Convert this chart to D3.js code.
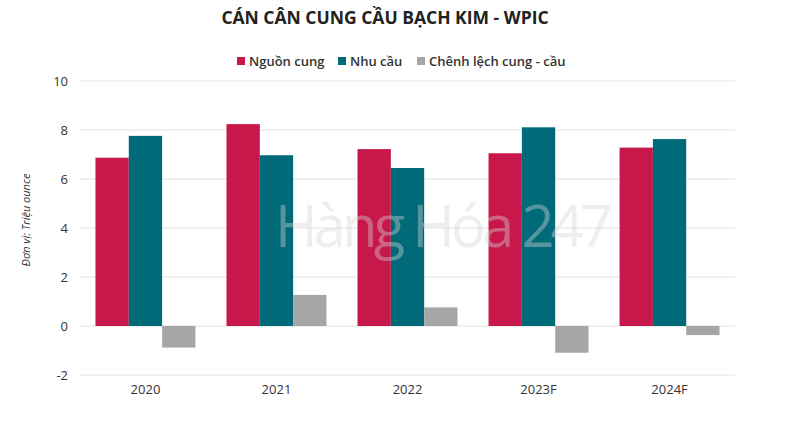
<!DOCTYPE html>
<html><head><meta charset="utf-8">
<script src="https://cdn.jsdelivr.net/npm/d3@7"></script>
<style>body{margin:0;background:#fff}svg{display:block;font-family:"Open Sans",sans-serif}</style>
</head><body><svg id="c" width="800" height="430"></svg>
<script>
const categories = ["2020","2021","2022","2023F","2024F"];
const seriesNames = ["Nguồn cung","Nhu cầu","Chênh lệch cung - cầu"];
const supply = [6.87, 8.24, 7.22, 7.05, 7.28];
const demand = [7.76, 6.97, 6.45, 8.11, 7.63];
const balance = [-0.88, 1.27, 0.76, -1.09, -0.37];
const yTicks = [-2, 0, 2, 4, 6, 8, 10];
const colors = ["#C8174A", "#006A78", "#A6A6A6"];

const svg = d3.select("#c");
const x = d3.scaleBand().domain(categories).range([80, 735]).paddingInner(0.237).paddingOuter(0.118);
const xs = d3.scaleBand().domain([0,1,2]).range([0, x.bandwidth()]);
const y = d3.scaleLinear().domain([-2, 10]).range([375, 81]);

// gridlines
svg.append("g").selectAll("line").data(yTicks).join("line")
  .attr("x1", 80).attr("x2", 735)
  .attr("y1", d => y(d)).attr("y2", d => y(d))
  .attr("stroke", "#e2e2e2").attr("stroke-width", 1);

// y axis labels
const ya = svg.append("g").attr("transform", "translate(68,0)")
  .call(d3.axisLeft(y).tickValues(yTicks).tickFormat(d => String(d)).tickSize(0).tickPadding(0));
ya.select(".domain").remove();
ya.selectAll("text").attr("font-size", 13).attr("fill", "#333").attr("font-family", "Open Sans");

// x axis labels
const xa = svg.append("g").attr("transform", "translate(0,385)")
  .call(d3.axisBottom(x).tickSize(0).tickPadding(0));
xa.select(".domain").remove();
xa.selectAll("text").attr("font-size", 13).attr("fill", "#333").attr("font-family", "Open Sans").attr("dy", "0.71em");

// bars
const series = [supply, demand, balance];
const rows = [];
categories.forEach((c, i) => series.forEach((s, j) => rows.push({c, j, v: s[i]})));
svg.append("g").selectAll("rect").data(rows).join("rect")
  .attr("x", d => x(d.c) + xs(d.j))
  .attr("width", xs.bandwidth())
  .attr("y", d => y(Math.max(0, d.v)))
  .attr("height", d => Math.abs(y(d.v) - y(0)))
  .attr("fill", d => colors[d.j]);

// watermark
svg.append("text").attr("x", 275).attr("y", 247).attr("textLength", 338)
  .attr("font-size", 58).attr("fill", "#d6d6d6").attr("opacity", 0.4)
  .attr("font-family", "Open Sans").text("Hàng Hóa 247");

// title
svg.append("text").attr("x", 385).attr("y", 24).attr("text-anchor", "middle")
  .attr("font-size", 17.5).attr("font-weight", "bold").attr("fill", "#222")
  .text("CÁN CÂN CUNG CẦU BẠCH KIM - WPIC");

// legend
const legX = [237, 338, 417];
const lg = svg.append("g").selectAll("g").data(seriesNames).join("g")
  .attr("transform", (d, i) => `translate(${legX[i]},61)`);
lg.append("rect").attr("x", 0).attr("y", -4).attr("width", 8).attr("height", 8)
  .attr("fill", (d, i) => colors[i]);
lg.append("text").attr("x", 12).attr("y", 0).attr("dy", "0.35em")
  .attr("font-size", 13).attr("font-weight", 600).attr("fill", "#333").text(d => d);

// y label
svg.append("text").attr("transform", "translate(30,220) rotate(-90)")
  .attr("text-anchor", "middle").attr("font-size", 11).attr("font-style", "italic")
  .attr("fill", "#333").text("Đơn vị: Triệu ounce");
</script></body></html>
